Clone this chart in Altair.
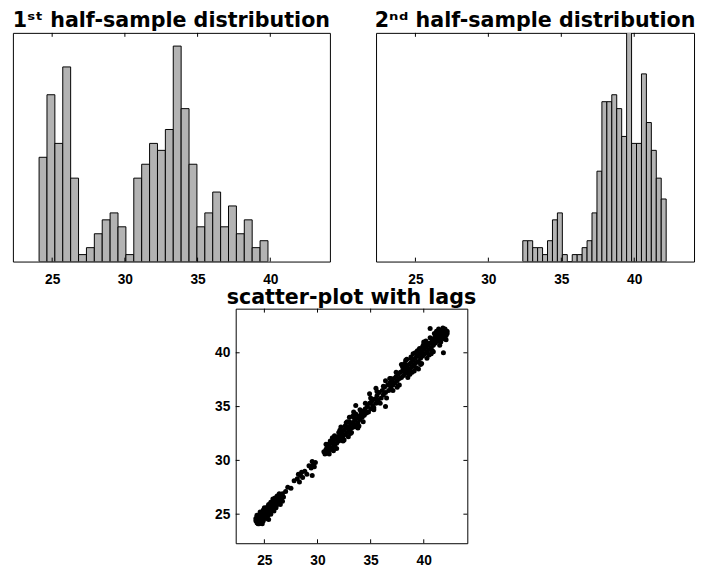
import altair as alt
import pandas as pd
import numpy as np

# ---------------- data ----------------
x_domain = [22.3, 44.1]
tick_vals = [25, 30, 35, 40]

# 1st half-sample histogram (29 bins between h1_lo and h1_hi)
h1_lo, h1_hi = 24.10, 39.84
h1_counts = [15, 24, 17, 28, 12, 1, 2, 4, 6, 7, 5, 1, 12, 14, 17, 16, 19,
             31, 22, 14, 5, 7, 10, 5, 8, 4, 6, 2, 3]

# 2nd half-sample histogram (29 bins between h2_lo and h2_hi)
h2_lo, h2_hi = 32.36, 42.19
h2_counts = [3, 3, 2, 2, 1, 3, 6, 7, 1, 0, 1, 1, 2, 3, 7, 13, 23, 23, 24,
             22, 18, 34, 17, 17, 27, 20, 16, 12, 9]
count_max = 32.9

# scatter-plot with lags
lag_x = [24.2, 24.3, 24.4, 24.5, 24.6, 24.3, 24.7, 24.5, 24.4, 24.8, 24.6, 24.9, 24.2, 24.7, 24.5, 24.9, 24.6, 24.8, 24.3, 25.0,
         25.0, 25.1, 25.2, 25.3, 25.1, 25.4, 25.5, 25.3, 25.6, 25.7, 25.5, 25.8, 25.9, 25.7, 26.0, 26.1, 26.2, 25.9, 26.3, 26.2,
         26.4, 26.0, 26.5, 26.3, 26.6, 26.7, 26.5, 25.2, 24.9, 25.6, 26.1, 26.8, 25.4, 26.4, 25.4,
         27.0, 27.2, 27.5, 27.8, 28.1, 28.3, 28.4, 28.6, 28.8, 28.5, 29.0, 29.2, 29.4, 29.5, 29.6, 29.5, 29.8, 28.2, 29.7,
         30.6, 30.8, 30.7, 30.9, 31.0, 31.1, 31.2, 31.0, 31.3, 31.4, 31.5, 31.6, 31.7, 31.8, 31.9, 32.0, 32.1, 32.2, 32.0, 32.3,
         32.4, 32.5, 32.6, 32.7, 32.8, 32.6, 32.9, 33.0, 33.1, 33.2, 33.0, 33.3, 33.4, 33.5, 33.6, 33.4, 33.7, 33.8, 33.9, 33.6,
         34.0, 34.1, 34.2, 34.3, 34.4, 34.5, 33.2, 32.4, 31.6, 33.8, 34.6, 33.6, 32.8, 31.2, 33.0,
         34.7, 34.8, 34.9, 35.0, 35.1, 35.2, 34.9, 35.4, 35.5, 35.6, 35.7, 35.8, 36.0, 36.1, 36.2, 36.3, 36.4, 36.4, 36.6, 36.7,
         36.8, 36.9, 37.0, 37.1, 37.2, 37.3, 37.4, 37.5, 37.6, 37.7, 37.8, 37.9, 36.4, 37.5, 35.3, 36.9,
         38.0, 38.1, 38.2, 38.3, 38.4, 38.5, 38.6, 38.7, 38.8, 38.9, 39.0, 39.1, 39.2, 39.3, 39.4, 39.5, 39.6, 39.7, 39.8, 39.9,
         40.0, 40.1, 40.2, 40.3, 40.4, 40.5, 40.6, 40.7, 40.8, 40.9, 41.0, 41.1, 41.2, 41.3, 41.4, 41.5, 41.6, 41.7, 41.8, 41.9,
         42.0, 41.5, 41.7, 42.1, 41.3, 41.9, 42.2, 41.6, 38.3, 38.9, 39.2, 39.8, 40.0, 40.5, 40.6, 41.85, 39.5, 38.6, 37.9, 39.0,
         40.3, 40.8, 41.1, 38.8, 41.8, 42.0, 41.4, 40.9]
lag_y = [24.4, 24.2, 24.6, 24.3, 24.5, 24.7, 24.2, 24.8, 24.1, 24.6, 24.9, 24.4, 24.6, 24.7, 24.1, 25.0, 24.2, 24.3, 24.4, 24.7,
         25.2, 24.9, 25.4, 25.1, 25.5, 25.3, 25.6, 25.7, 25.4, 25.8, 25.2, 25.5, 26.0, 26.1, 25.8, 26.2, 25.9, 26.3, 26.4, 26.0,
         26.1, 26.5, 26.3, 26.7, 26.5, 26.2, 26.8, 24.6, 25.4, 25.0, 25.6, 26.6, 25.9, 26.9, 24.5,
         27.1, 27.5, 27.4, 28.1, 28.3, 28.0, 28.6, 28.4, 29.0, 28.9, 28.7, 29.5, 29.3, 29.9, 29.6, 28.6, 29.8, 28.7, 29.4,
         30.8, 31.0, 30.6, 31.2, 30.8, 31.3, 31.0, 31.5, 31.6, 31.2, 31.8, 31.4, 32.0, 31.6, 32.2, 31.8, 32.3, 32.0, 32.6, 32.5,
         32.2, 32.8, 32.4, 33.0, 32.6, 33.2, 33.1, 32.8, 33.4, 33.0, 33.6, 33.5, 33.1, 33.7, 33.3, 34.0, 33.9, 33.5, 34.1, 34.3,
         33.8, 34.4, 34.0, 34.6, 34.2, 34.8, 32.6, 31.8, 32.3, 33.0, 34.4, 35.1, 33.6, 31.8, 34.0,
         35.0, 34.5, 35.3, 34.8, 35.5, 35.1, 36.2, 35.7, 35.3, 36.0, 35.6, 36.3, 35.8, 36.5, 36.1, 36.8, 36.3, 35.0, 37.0, 36.5,
         37.2, 36.8, 37.4, 37.0, 37.6, 37.2, 37.8, 37.4, 38.0, 37.6, 38.2, 37.7, 37.4, 36.8, 34.9, 37.6,
         38.3, 37.9, 38.5, 38.1, 38.7, 38.3, 38.9, 38.5, 39.1, 38.7, 39.3, 38.9, 39.5, 39.1, 39.7, 39.2, 39.9, 39.5, 40.1, 39.7,
         40.3, 39.9, 40.5, 40.1, 40.7, 40.3, 40.9, 40.5, 41.1, 40.7, 41.3, 40.9, 41.5, 41.1, 41.7, 41.3, 41.9, 41.5, 42.0, 41.7,
         41.9, 42.0, 42.1, 41.6, 41.8, 42.1, 41.8, 41.4, 39.3, 38.2, 40.0, 39.0, 41.0, 39.8, 42.25, 40.0, 38.5, 38.0, 38.9, 39.9,
         40.9, 40.2, 41.6, 39.5, 41.6, 41.6, 42.0, 41.3]
# further scatter points away from the diagonal
lag_x_more = [24.4, 24.8, 25.0, 25.3, 25.6, 25.9, 26.2, 26.5, 24.6, 25.8, 26.7, 24.3,
              30.8, 31.1, 31.4, 31.8, 32.1, 32.5, 32.7, 33.1, 33.3, 33.7, 34.0, 34.3, 32.2, 33.9, 31.5, 34.5, 33.4, 32.9,
              35.0, 35.3, 35.6, 35.9, 36.2, 36.5, 36.8, 37.1, 37.4, 37.7, 38.0, 35.5,
              38.2, 38.5, 38.8, 39.1, 39.4, 39.7, 40.0, 40.3, 40.6, 40.9, 41.2, 41.5, 41.8, 42.1, 38.4, 39.3, 40.2, 40.7,
              41.0, 41.6, 42.0, 41.4, 39.9, 39.6, 38.1, 38.7, 41.9, 42.2]
lag_y_more = [24.9, 24.1, 25.6, 24.8, 26.1, 25.3, 26.7, 25.9, 25.2, 26.4, 26.9, 24.9,
              31.5, 30.6, 32.1, 31.1, 32.8, 31.9, 33.5, 32.5, 34.1, 33.1, 34.7, 33.6, 33.1, 33.2, 30.9, 35.3, 34.5, 32.2,
              35.8, 34.7, 36.4, 35.3, 36.9, 35.8, 37.6, 36.5, 38.2, 37.0, 38.7, 36.7,
              39.0, 37.7, 39.6, 38.3, 40.2, 38.9, 40.8, 39.5, 41.4, 40.1, 42.0, 40.7, 42.3, 41.2, 39.4, 38.6, 41.1, 39.9,
              41.8, 41.0, 42.2, 42.2, 40.6, 40.4, 38.8, 38.0, 41.3, 42.0]

# ---------------- styling ----------------
FONT = "Liberation Sans"
TITLE_FONT = "DejaVu Sans"
GRAY = "#b3b3b3"
TICK_LEN = 4
BOX = alt.ViewBackground(stroke="black", strokeWidth=1, strokeOpacity=1)


def make_title(text, offset):
    return alt.Title(text, font=TITLE_FONT, fontSize=21, fontWeight="bold", color="black",
                     anchor="middle", baseline="bottom", offset=offset)


xscale = alt.Scale(domain=x_domain, nice=False, zero=False)
tick_df = pd.DataFrame({"t": tick_vals})

x_axis = alt.Axis(values=tick_vals, title=None, tickSize=0, domain=False, grid=False,
                  labelFont=FONT, labelFontSize=14, labelFontWeight="bold",
                  labelColor="black", labelPadding=11)


def histogram(lo, hi, counts, title, w, h):
    edges = np.linspace(lo, hi, len(counts) + 1)
    df = pd.DataFrame({"x0": edges[:-1], "x1": edges[1:], "n": counts})
    bars = alt.Chart(df).mark_bar(color=GRAY, stroke="black", strokeWidth=1, clip=True).encode(
        x=alt.X("x0:Q", scale=xscale, axis=x_axis),
        x2="x1:Q",
        y=alt.Y("n:Q", scale=alt.Scale(domain=[0, count_max], nice=False), axis=None),
        y2=alt.datum(0),
    )
    top = alt.Chart(tick_df).mark_rule(color="black", strokeWidth=1).encode(
        x=alt.X("t:Q", scale=xscale, axis=x_axis), y=alt.value(0), y2=alt.value(TICK_LEN))
    bot = alt.Chart(tick_df).mark_rule(color="black", strokeWidth=1).encode(
        x=alt.X("t:Q", scale=xscale, axis=x_axis), y=alt.value(h), y2=alt.value(h - TICK_LEN))
    return alt.layer(bars, top, bot).properties(
        width=w, height=h, title=make_title(title, -20), view=BOX)


p1 = histogram(h1_lo, h1_hi, h1_counts, "1ˢᵗ half-sample distribution", 323, 233)
p2 = histogram(h2_lo, h2_hi, h2_counts, "2ⁿᵈ half-sample distribution", 324, 233)

SW, SH = 236, 239
yscale = alt.Scale(domain=x_domain, nice=False, zero=False)
y_axis = alt.Axis(values=tick_vals, title=None, tickSize=0, domain=False, grid=False,
                  labelFont=FONT, labelFontSize=14, labelFontWeight="bold",
                  labelColor="black", labelPadding=6)

sdf = pd.DataFrame({"a": lag_x + lag_x_more, "b": lag_y + lag_y_more})
pts = alt.Chart(sdf).mark_circle(size=26, color="black", opacity=1).encode(
    x=alt.X("a:Q", scale=xscale, axis=x_axis),
    y=alt.Y("b:Q", scale=yscale, axis=y_axis),
)
xt_top = alt.Chart(tick_df).mark_rule(color="black").encode(
    x=alt.X("t:Q", scale=xscale, axis=x_axis), y=alt.value(0), y2=alt.value(TICK_LEN))
xt_bot = alt.Chart(tick_df).mark_rule(color="black").encode(
    x=alt.X("t:Q", scale=xscale, axis=x_axis), y=alt.value(SH), y2=alt.value(SH - TICK_LEN))
yt_left = alt.Chart(tick_df).mark_rule(color="black").encode(
    y=alt.Y("t:Q", scale=yscale, axis=y_axis), x=alt.value(0), x2=alt.value(TICK_LEN))
yt_right = alt.Chart(tick_df).mark_rule(color="black").encode(
    y=alt.Y("t:Q", scale=yscale, axis=y_axis), x=alt.value(SW), x2=alt.value(SW - TICK_LEN))
p3 = alt.layer(pts, xt_top, xt_bot, yt_left, yt_right).properties(
    width=SW, height=SH, title=make_title("scatter-plot with lags", -21), view=BOX)

spacer = alt.Chart(pd.DataFrame({"a": [0]})).mark_point(opacity=0).encode(
    x=alt.X("a:Q", axis=None), y=alt.Y("a:Q", axis=None)
).properties(width=204, height=10, view=alt.ViewBackground(stroke=None))

top_row = alt.hconcat(p1, p2, spacing=44)
bottom_row = alt.hconcat(spacer, p3, spacing=0)

chart = alt.vconcat(top_row, bottom_row, spacing=0).properties(
    padding={"left": 4, "top": -3, "right": 0, "bottom": 0}
).configure_view(
    stroke="black", strokeWidth=1
).configure(background="white")

chart.save("out.html", embed_options={"renderer": "svg", "actions": False})
